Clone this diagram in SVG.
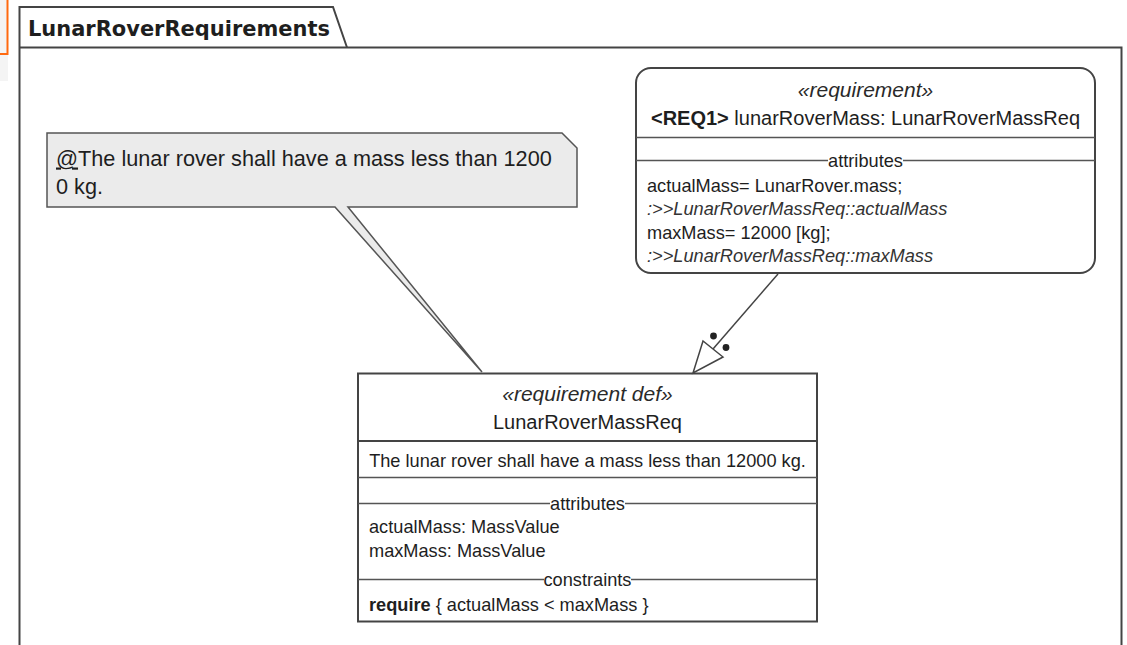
<svg xmlns="http://www.w3.org/2000/svg" width="1127" height="645" viewBox="0 0 1127 645">
  <style>
    .frame { fill: none; stroke: #444; stroke-width: 2; }
    .box { fill: #fff; stroke: #444; stroke-width: 2; }
    .sep { stroke: #555; stroke-width: 1.5; fill: none; }
    .txt { font-family: "Liberation Sans", Arial, sans-serif; fill: #1e1e1e; }
    .body { font-size: 18.2px; }
    .head { font-size: 20px; }
    .stereo { font-size: 21px; font-style: italic; fill: #2a2a2a; }
    .redef { font-size: 18.2px; font-style: italic; fill: #333; }
    .note { fill: #ebebeb; stroke: #555; stroke-width: 1.5; }
    .edge { stroke: #444; stroke-width: 1.5; fill: none; }
  </style>

  <rect width="1127" height="645" fill="#fff"/>

  <!-- editor margin at the far left -->
  <rect x="0" y="0" width="8" height="81" fill="#f4f4f4"/>
  <path d="M7.5,0 V54 H0" fill="none" stroke="#ff6a10" stroke-width="2"/>

  <!-- package frame with name tab -->
  <g id="pkg-LunarRoverRequirements">
    <path class="frame" d="M19.5,646 V7 H333 L347,47.5"/>
    <path class="frame" d="M19.5,47.5 H1121.5 V646"/>
    <text class="txt" x="28" y="36" font-weight="bold" font-size="21" textLength="302" lengthAdjust="spacingAndGlyphs" style="font-family:'DejaVu Sans',sans-serif">LunarRoverRequirements</text>
  </g>

  <!-- comment note with callout to the requirement definition -->
  <g id="note-comment">
    <path class="note" d="M47,133 H562 L577,148 V207 H348 L482,372 L335,207 H47 Z"/>
    <text class="txt" x="56" y="165.5" font-size="21.7"><tspan text-decoration="underline">@</tspan>The lunar rover shall have a mass less than 1200</text>
    <text class="txt" x="56" y="193.5" font-size="21.7">0 kg.</text>
  </g>

  <!-- requirement usage -->
  <g id="req-lunarRoverMass">
    <rect class="box" x="636" y="68" width="459" height="205" rx="15" ry="15"/>
    <line class="sep" x1="636" y1="137.5" x2="1095" y2="137.5"/>
    <line class="sep" x1="636" y1="160.5" x2="828" y2="160.5"/>
    <line class="sep" x1="903" y1="160.5" x2="1095" y2="160.5"/>
    <text class="txt stereo" x="865.5" y="97" text-anchor="middle">«requirement»</text>
    <text class="txt head" x="865.5" y="124.5" text-anchor="middle"><tspan font-weight="bold">&lt;REQ1&gt;</tspan> lunarRoverMass: LunarRoverMassReq</text>
    <text class="txt body" x="865.5" y="167" text-anchor="middle">attributes</text>
    <text class="txt body" x="647" y="191.5">actualMass= LunarRover.mass;</text>
    <text class="txt redef" x="647" y="215">:&gt;&gt;LunarRoverMassReq::actualMass</text>
    <text class="txt body" x="647" y="239">maxMass= 12000 [kg];</text>
    <text class="txt redef" x="647" y="262">:&gt;&gt;LunarRoverMassReq::maxMass</text>
  </g>

  <!-- requirement definition -->
  <g id="reqdef-LunarRoverMassReq">
    <rect class="box" x="358" y="373.5" width="459" height="248"/>
    <line class="frame" x1="358" y1="441" x2="817" y2="441"/>
    <line class="sep" x1="358" y1="477.5" x2="817" y2="477.5"/>
    <line class="sep" x1="358" y1="503.5" x2="550" y2="503.5"/>
    <line class="sep" x1="625" y1="503.5" x2="817" y2="503.5"/>
    <line class="sep" x1="358" y1="579.5" x2="544" y2="579.5"/>
    <line class="sep" x1="631" y1="579.5" x2="817" y2="579.5"/>
    <text class="txt stereo" x="587.5" y="401" text-anchor="middle">«requirement def»</text>
    <text class="txt head" x="587.5" y="429" text-anchor="middle">LunarRoverMassReq</text>
    <text class="txt body" x="587.5" y="467" text-anchor="middle">The lunar rover shall have a mass less than 12000 kg.</text>
    <text class="txt body" x="587.5" y="509.5" text-anchor="middle">attributes</text>
    <text class="txt body" x="369" y="533">actualMass: MassValue</text>
    <text class="txt body" x="369" y="557">maxMass: MassValue</text>
    <text class="txt body" x="587.5" y="585.5" text-anchor="middle">constraints</text>
    <text class="txt body" x="369" y="611"><tspan font-weight="bold">require</tspan> { actualMass &lt; maxMass }</text>
  </g>

  <!-- connectors -->
  <g id="connectors">
    <g id="edge-typing">
      <line class="edge" x1="778" y1="274" x2="713" y2="349"/>
      <polygon class="edge" points="693,373 703,341 723,357" style="fill:#fff"/>
      <circle cx="713.5" cy="336" r="3.4" fill="#222"/>
      <circle cx="726" cy="347.5" r="3.4" fill="#222"/>
    </g>
  </g>
</svg>
